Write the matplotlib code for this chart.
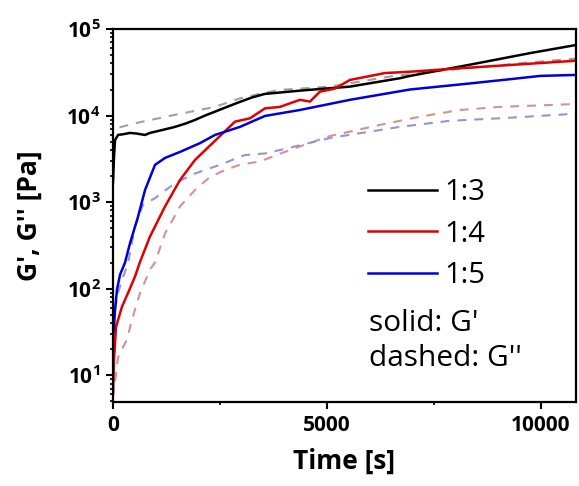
import numpy as np
import matplotlib
matplotlib.use('Agg')
import matplotlib.pyplot as plt
from matplotlib.ticker import FixedLocator, FuncFormatter, LogLocator, NullFormatter
from matplotlib.lines import Line2D

plt.rcParams['font.family'] = ['Open Sans', 'DejaVu Sans']
plt.rcParams['mathtext.fontset'] = 'custom'
plt.rcParams['mathtext.rm'] = 'Open Sans'
plt.rcParams['mathtext.bf'] = 'Open Sans:bold'

# ---- data ----
# 1:3
t_g1_13 = [0, 23, 47, 117, 250, 397, 550, 748, 860, 981, 1200, 1448, 1700, 1916, 2150,
           2383, 2700, 2967, 3250, 3551, 4368, 5536, 6704, 6938, 8340, 9741, 10816]
g1_13 = [1700, 3300, 5200, 5970, 6100, 6300, 6200, 5970, 6300, 6500, 6900, 7400, 8100, 8900,
         10000, 11100, 12800, 14400, 16200, 17800, 19400, 21600, 27000, 28700, 38700, 52600, 65300]
t_g2_13 = [150, 514, 1448, 2383, 2967, 3551, 3902, 5070, 6470, 7500, 8500, 9700, 10817]
g2_13 = [7300, 8150, 10200, 12600, 15800, 18400, 19800, 21600, 28200, 32500, 36000, 41000, 45500]

# 1:4
t_g1_14 = [0, 23, 70, 105, 210, 350, 514, 631, 864, 1215, 1565, 1916, 2266, 2850, 3201,
           3551, 3902, 4369, 4603, 4836, 5187, 5537, 6355, 6939, 8107, 9276, 10817]
g1_14 = [6.3, 15, 36, 41.5, 62, 89, 138, 204, 400, 890, 1800, 3070, 4500, 8500, 9300,
         12100, 12600, 15200, 14500, 18900, 20500, 25800, 31000, 32100, 35200, 38400, 43000]
t_g2_14 = [0, 23, 70, 117, 327, 444, 631, 864, 981, 1215, 1565, 1916, 2266, 2617, 2967,
           3434, 4135, 4369, 5070, 6238, 7172, 8107, 9042, 10817]
g2_14 = [5.5, 7.4, 10, 16, 26, 44, 89, 166, 200, 434, 890, 1380, 1950, 2350, 2700,
         2950, 4000, 4400, 5800, 7800, 9700, 11600, 12600, 13600]

# 1:5
t_g1_15 = [0, 23, 47, 93, 164, 280, 397, 584, 748, 981, 1215, 1565, 2032, 2383, 2967,
           3551, 4369, 5537, 6939, 8341, 9276, 9977, 10817]
g1_15 = [28, 36, 57, 98, 145, 200, 335, 676, 1380, 2690, 3240, 3800, 4800, 5970, 7400,
         9900, 11600, 15200, 20000, 23500, 26300, 28700, 29500]
t_g2_15 = [47, 117, 210, 350, 514, 701, 981, 1448, 1916, 2500, 3084, 3551, 3902, 5070,
           5537, 6705, 7873, 9042, 10817]
g2_15 = [57, 89, 126, 195, 525, 930, 1110, 1660, 2140, 2700, 3500, 3650, 4000, 5500,
         6000, 7400, 8700, 9300, 10500]

labels = ['1:3', '1:4', '1:5']
solid_colors = ['#000000', '#e00000', '#0000d8']
dash_colors = ['#a0a0a0', '#d09494', '#9494d4']

fig = plt.figure(figsize=(5.79, 4.86), dpi=100)
ax = fig.add_axes([0.1952, 0.1728, 0.7996, 0.7675])

dash = (4.3, 3.8)
ax.plot(t_g2_13, g2_13, color=dash_colors[0], lw=1.5, dashes=dash)
ax.plot(t_g2_14, g2_14, color=dash_colors[1], lw=1.5, dashes=dash)
ax.plot(t_g2_15, g2_15, color=dash_colors[2], lw=1.5, dashes=dash)
ax.plot(t_g1_13, g1_13, color=solid_colors[0], lw=1.8)
ax.plot(t_g1_14, g1_14, color=solid_colors[1], lw=1.8)
ax.plot(t_g1_15, g1_15, color=solid_colors[2], lw=1.8)

ax.set_yscale('log')
ax.set_xlim(0, 10820)
ax.set_ylim(4.9, 1e5)

ax.xaxis.set_major_locator(FixedLocator([0, 5000, 10000]))
ax.xaxis.set_minor_locator(FixedLocator([2500, 7500]))
ax.yaxis.set_major_locator(LogLocator(base=10, numticks=10))
ax.yaxis.set_minor_locator(LogLocator(base=10, subs=np.arange(2, 10), numticks=10))
ax.yaxis.set_minor_formatter(NullFormatter())
ax.yaxis.set_major_formatter(FuncFormatter(lambda v, p: r'$\mathbf{10^{%d}}$' % int(round(np.log10(v)))))

ax.tick_params(axis='both', which='major', direction='out', length=5, width=1.5,
               labelsize=15, top=False, right=False, pad=4)
ax.tick_params(axis='both', which='minor', direction='out', length=2.5, width=1.2,
               top=False, right=False)
for lab in ax.get_xticklabels():
    lab.set_fontweight('bold')
for sp in ax.spines.values():
    sp.set_linewidth(1.6)

ax.set_xlabel('Time [s]', fontsize=19, fontweight='bold', labelpad=9)
ax.set_ylabel("G', G'' [Pa]", fontsize=19, fontweight='bold', labelpad=17)

handles = [Line2D([], [], color=c, lw=1.8) for c in solid_colors]
leg = ax.legend(handles, labels, loc='center left', bbox_to_anchor=(255 / 463, 0.5), frameon=False,
                prop={'size': 21, 'weight': 500}, handlelength=2.35, handletextpad=0.28,
                labelspacing=0.42, borderpad=0, borderaxespad=0)
# legend placed so that the middle row (1:4) sits at y = 234 px
leg.set_bbox_to_anchor((255 / 463, (402 - 234) / 373), transform=ax.transAxes)

fig.text(369 / 579, 1 - 323 / 486, "solid: G'", fontsize=21.5, fontweight=500, va='center', ha='left')
fig.text(369 / 579, 1 - 358 / 486, "dashed: G''", fontsize=21.5, fontweight=500, va='center', ha='left')

fig.savefig('out.png', dpi=100)
